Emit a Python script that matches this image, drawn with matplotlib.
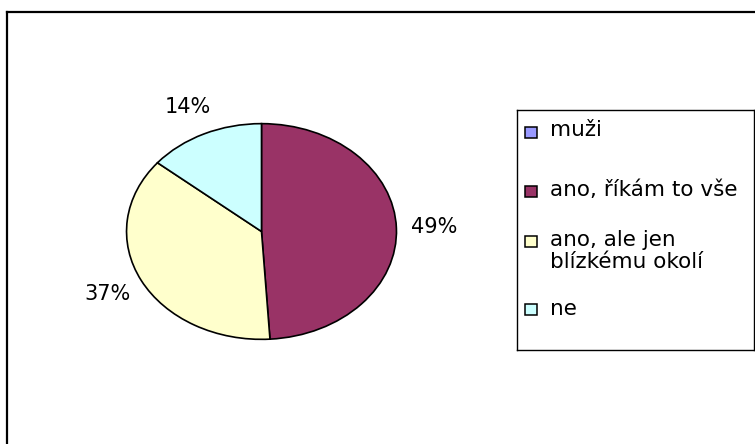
import matplotlib.pyplot as plt
from matplotlib.patches import Rectangle
from matplotlib.lines import Line2D

# data
labels = ['muži', 'ano, říkám to vše', 'ano, ale jen\nblízkému okolí', 'ne']
values = [0, 49, 37, 14]
colors = ['#9999FF', '#993366', '#FFFFCC', '#CCFFFF']

W, H = 755, 444
fig = plt.figure(figsize=(W / 100, H / 100), dpi=100)
fig.patch.set_facecolor('white')

def px_axes(x0, y0, x1, y1):
    # pixel box (top-left origin) -> figure axes
    return fig.add_axes([x0 / W, 1 - y1 / H, (x1 - x0) / W, (y1 - y0) / H])

# outer chart border (only left and top visible)
fig.add_artist(Line2D([7 / W, 7 / W], [1 - 12 / H, 0], color='black', lw=1.6))
fig.add_artist(Line2D([7 / W, 1], [1 - 12 / H, 1 - 12 / H], color='black', lw=1.6))

# pie (elliptical, like the original)
ax = px_axes(126, 123, 397, 340)
wedges, texts, autotexts = ax.pie(
    values, colors=colors, startangle=90, counterclock=False,
    autopct=lambda p: '%d%%' % round(p) if p > 0.5 else '',
    pctdistance=1.28,
    wedgeprops=dict(edgecolor='black', linewidth=1.2),
    textprops=dict(fontsize=15, color='black', family='DejaVu Sans'))
ax.set_aspect('auto')
ax.set_xlim(-1.004, 1.004)
ax.set_ylim(-1.006, 1.006)
ax.axis('off')

# legend drawn by hand so the handle sits on the first text line
lg = px_axes(517, 110, 754, 350)
lg.set_xlim(517, 754)
lg.set_ylim(350, 110)
lg.set_xticks([])
lg.set_yticks([])
for s in lg.spines.values():
    s.set_linewidth(1.0)
    s.set_color('black')

square_y = [132, 191, 241, 309]
text_y = [130, 190, 251, 309]
for lab, col, sy, ty in zip(labels, colors, square_y, text_y):
    lg.add_patch(Rectangle((525, sy - 5.5), 12, 11, facecolor=col,
                           edgecolor='black', linewidth=1.1))
    lg.text(550, ty, lab, fontsize=15.5, va='center', ha='left',
            family='DejaVu Sans', linespacing=1.08)

fig.savefig('out.png', dpi=100)
